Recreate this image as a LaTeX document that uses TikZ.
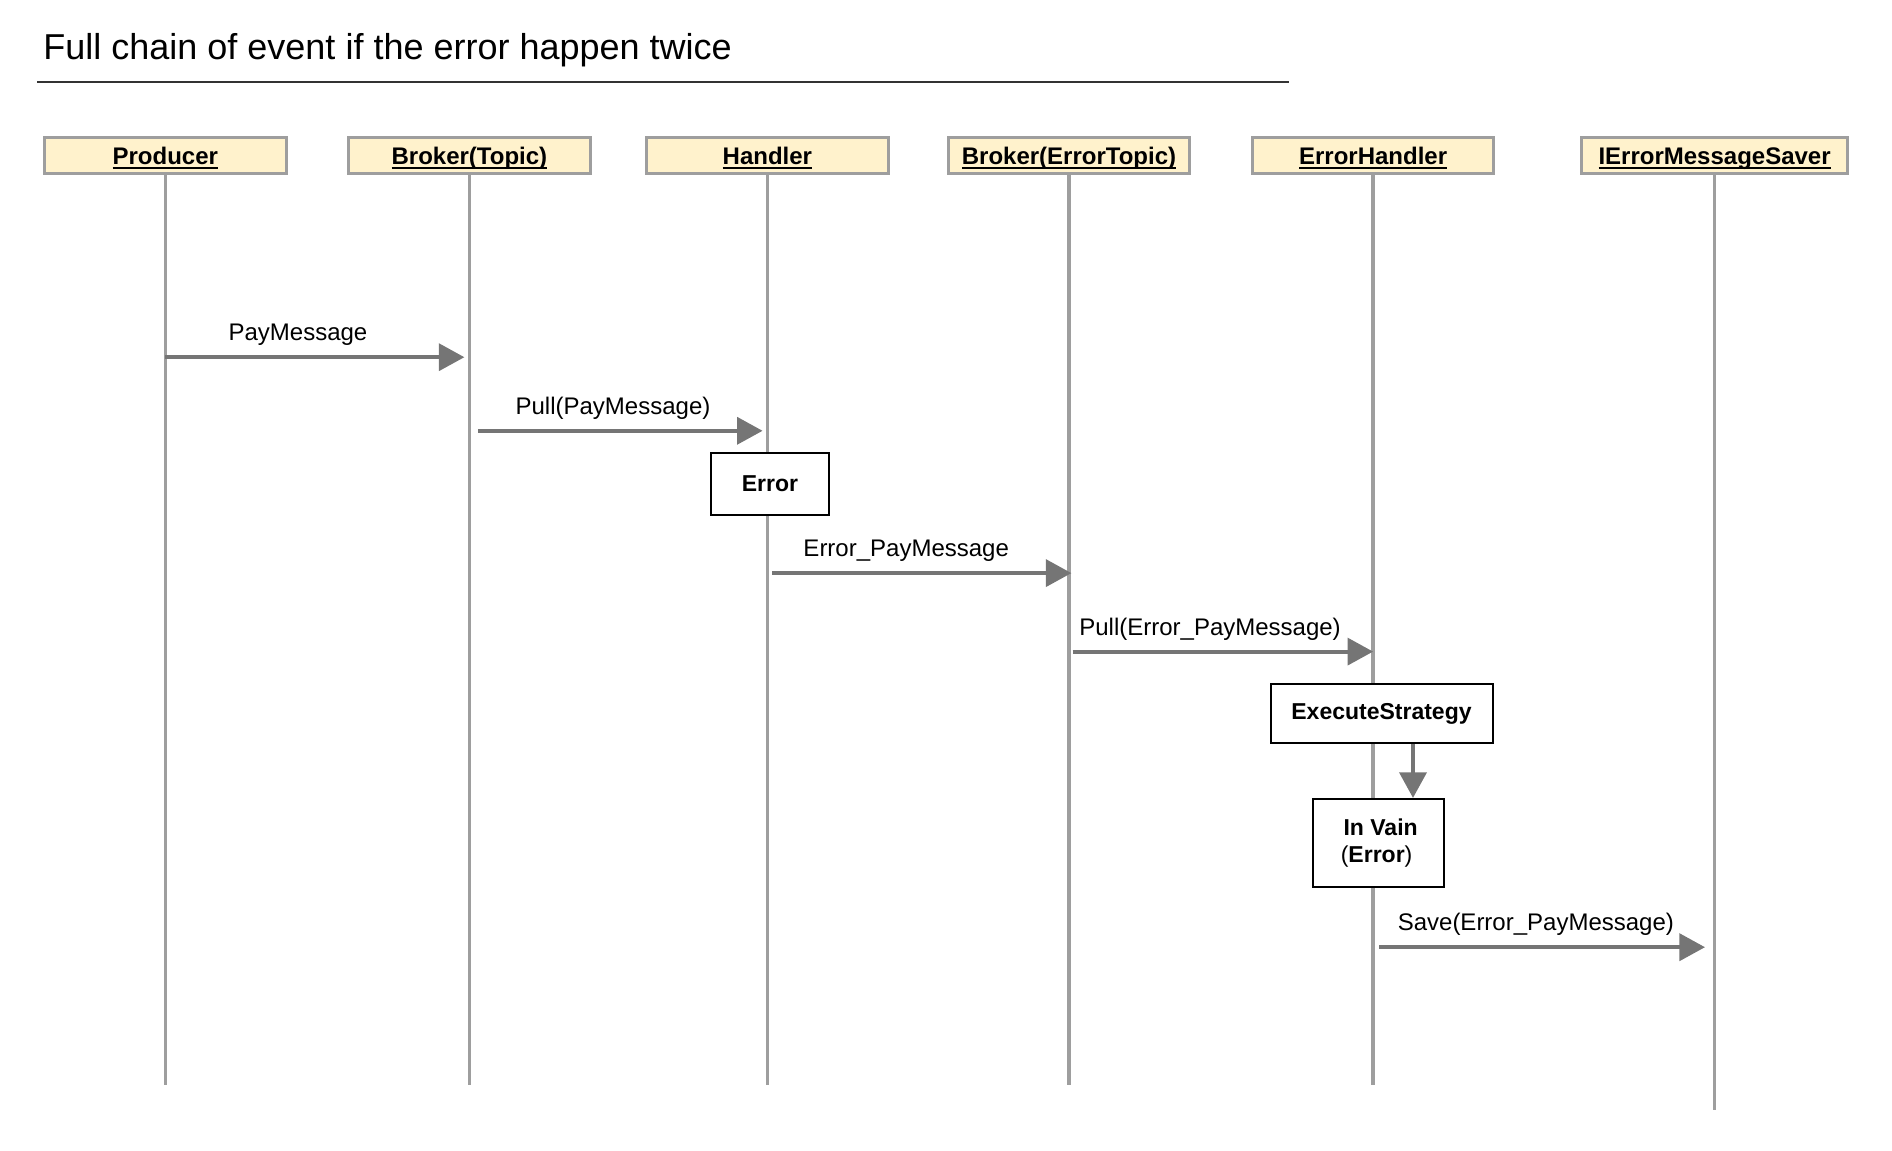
\documentclass[tikz,border=0pt]{standalone}
\usepackage{fontspec}
\setmainfont{Liberation Sans}
\usepackage{xcolor}
\usetikzlibrary{arrows.meta}

\definecolor{headfill}{HTML}{FFF2CC}
\definecolor{headline}{HTML}{9E9E9E}
\definecolor{lifegray}{HTML}{9E9E9E}
\definecolor{msggray}{HTML}{757575}
\definecolor{titlerule}{HTML}{333333}

% underlined participant name, rule at a fixed depth
\newsavebox{\namebox}
\newcommand{\actorname}[1]{\sbox{\namebox}{#1}\rlap{\rule[-2.35pt]{\wd\namebox}{0.85pt}}\usebox{\namebox}}

\tikzset{
  head/.style={draw=headline, line width=1.5pt, fill=headfill, minimum width=120.8pt, minimum height=18pt, inner sep=0pt, text height=8.6pt, text depth=0pt, font=\fontsize{12}{14}\selectfont\bfseries},
  lifeline/.style={draw=lifegray, line width=1.7pt},
  msg/.style={draw=msggray, line width=1.9pt, -{Triangle[length=12.8pt,width=13.5pt]}},
  msglabel/.style={midway, anchor=base, yshift=8.2pt, font=\fontsize{12}{14}\selectfont},
  actbox/.style={draw=black, line width=1pt, fill=white, inner sep=0pt, font=\fontsize{11.5}{13.5}\selectfont\bfseries, align=center}
}

\begin{document}
\begin{tikzpicture}[x=0.5pt, y=-0.5pt]
\useasboundingbox (0,0) rectangle (1892,1151);

% Title
\node[anchor=base west, inner sep=0pt, font=\fontsize{18}{22}\selectfont] (title) at (43,60) {Full chain of event if the error happen twice};
\draw[titlerule, line width=1pt] (37,82) -- (1289,82);

% Participants
\node[head] (producer) at (165.3,155.7) {\actorname{Producer}};
\node[head] (topic) at (469.4,155.7) {\actorname{Broker(Topic)}};
\node[head] (handler) at (767.4,155.7) {\actorname{Handler}};
\node[head] (errtopic) at (1069,155.7) {\actorname{Broker(ErrorTopic)}};
\node[head] (errhandler) at (1373.1,155.7) {\actorname{ErrorHandler}};
\node[head, minimum width=133.3pt] (saver) at (1714.6,155.7) {\actorname{IErrorMessageSaver}};

% Lifelines
\coordinate (bottom) at (0,1085);
\coordinate (saverbottom) at (0,1110);
\foreach \n in {producer,topic,handler,errtopic,errhandler}
  \draw[lifeline] (\n.south) -- (\n.south |- bottom);
\draw[lifeline] (saver.south) -- (saver.south |- saverbottom);

% Message rows
\coordinate (r1) at (0,357.2);
\coordinate (r2) at (0,430.8);
\coordinate (r4) at (0,573.1);
\coordinate (r5) at (0,651.6);
\coordinate (r9) at (0,947.2);

% Messages
\draw[msg, shorten >=2.5pt] (producer |- r1) -- (topic |- r1) node[msglabel, xshift=-9.7pt] {PayMessage};
\draw[msg, shorten <=4.2pt, shorten >=2.4pt] (topic |- r2) -- (handler |- r2) node[msglabel, xshift=-2.7pt] {Pull(PayMessage)};

% Error in handler
\node[actbox, minimum width=59pt, minimum height=31.4pt] (error) at (769.9,483.9) {Error};

\draw[msg, shorten <=2.4pt, shorten >=-1.2pt] (handler |- r4) -- (errtopic |- r4) node[msglabel, xshift=-6pt] {Error\_PayMessage};
\draw[msg, shorten <=1.8pt] (errtopic |- r5) -- (errhandler |- r5) node[msglabel, xshift=-5.5pt] {Pull(Error\_PayMessage)};

% Strategy
\node[actbox, minimum width=111pt, minimum height=29.6pt] (exec) at (1381.5,713.7) {ExecuteStrategy};
\node[actbox, minimum width=65.8pt, minimum height=44pt] (vain) at (1378.6,842.9) {\hspace*{2pt}In Vain\\\textmd{(}Error\textmd{)}\hspace*{2pt}};
\coordinate (execarrow) at ([xshift=15.75pt]exec.south);
\draw[msg] (execarrow) -- (execarrow |- vain.north);

% Save
\draw[msg, shorten <=3pt, shorten >=4.8pt] (errhandler |- r9) -- (saver |- r9) node[msglabel, xshift=-4pt] {Save(Error\_PayMessage)};

\end{tikzpicture}
\end{document}
